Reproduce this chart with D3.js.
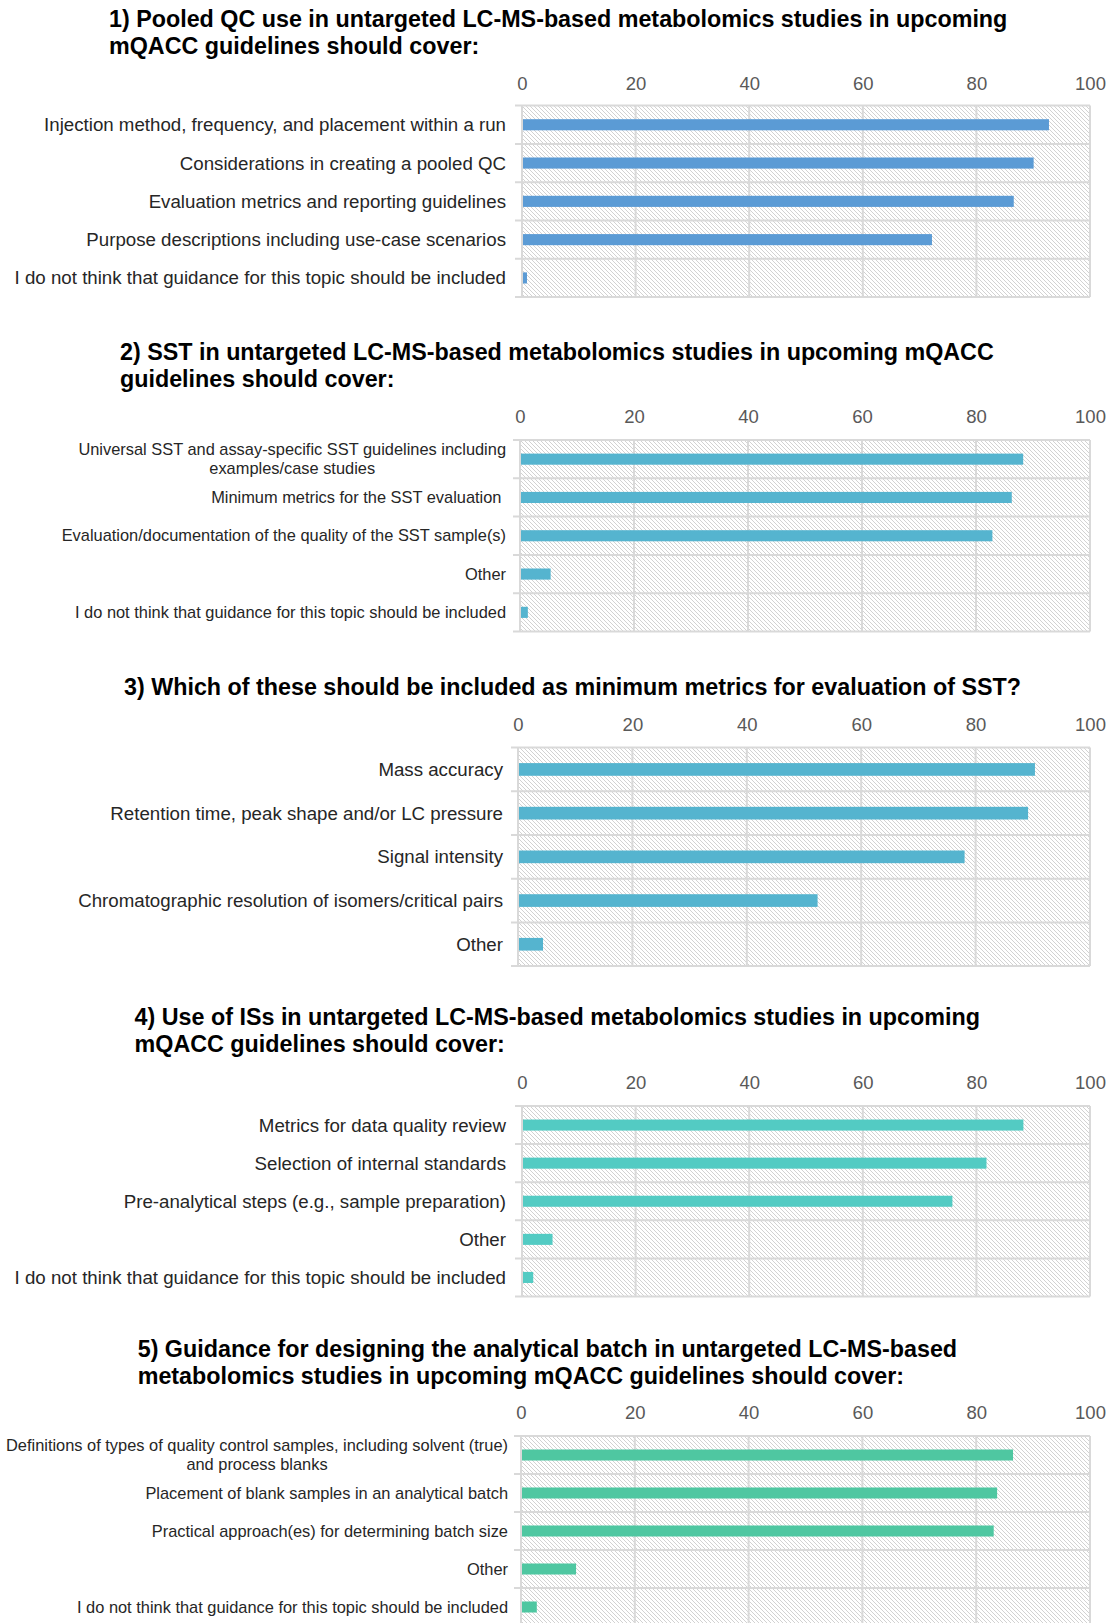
<!DOCTYPE html>
<html lang="en">
<head>
<meta charset="utf-8">
<title>mQACC survey bar charts</title>
<script src="https://cdnjs.cloudflare.com/ajax/libs/d3/7.8.5/d3.min.js"></script>
<style>
  body { margin: 0; background: #fff; }
  svg { display: block; font-family: "Liberation Sans", Arial, sans-serif; }
  .title { font-weight: bold; fill: #000; }
  .tick text { fill: #595959; }
</style>
</head>
<body>
<svg id="chart" width="1108" height="1623"></svg>
<script>
// ---- data (percent of respondents) ----
var ticks = [0, 20, 40, 60, 80, 100];

var title1 = ["1) Pooled QC use in untargeted LC-MS-based metabolomics studies in upcoming",
              "mQACC guidelines should cover:"];
var labels1 = ["Injection method, frequency, and placement within a run",
               "Considerations in creating a pooled QC",
               "Evaluation metrics and reporting guidelines",
               "Purpose descriptions including use-case scenarios",
               "I do not think that guidance for this topic should be included"];
var values1 = [92.6, 89.9, 86.4, 72.0, 0.7];

var title2 = ["2) SST in untargeted LC-MS-based metabolomics studies in upcoming mQACC",
              "guidelines should cover:"];
var labels2 = ["Universal SST and assay-specific SST guidelines including\nexamples/case studies",
               "Minimum metrics for the SST evaluation ",
               "Evaluation/documentation of the quality of the SST sample(s)",
               "Other",
               "I do not think that guidance for this topic should be included"];
var values2 = [88.1, 86.1, 82.7, 5.2, 1.2];

var title3 = ["3) Which of these should be included as minimum metrics for evaluation of SST?"];
var labels3 = ["Mass accuracy",
               "Retention time, peak shape and/or LC pressure",
               "Signal intensity",
               "Chromatographic resolution of isomers/critical pairs",
               "Other"];
var values3 = [90.2, 89.0, 77.9, 52.2, 4.2];

var title4 = ["4) Use of ISs in untargeted LC-MS-based metabolomics studies in upcoming",
              "mQACC guidelines should cover:"];
var labels4 = ["Metrics for data quality review",
               "Selection of internal standards",
               "Pre-analytical steps (e.g., sample preparation)",
               "Other",
               "I do not think that guidance for this topic should be included"];
var values4 = [88.1, 81.6, 75.6, 5.2, 1.8];

var title5 = ["5) Guidance for designing the analytical batch in untargeted LC-MS-based",
              "metabolomics studies in upcoming mQACC guidelines should cover:"];
var labels5 = ["Definitions of types of quality control samples, including solvent (true)\nand process blanks",
               "Placement of blank samples in an analytical batch",
               "Practical approach(es) for determining batch size",
               "Other",
               "I do not think that guidance for this topic should be included"];
var values5 = [86.3, 83.5, 82.9, 9.5, 2.6];

// ---- layout ----
var panels = [
  {title: title1, labels: labels1, values: values1, color: "#5b9bd5",
   titleX: 109, titleY: 27, axisY: 83, left: 522, top: 105.6, rowH: 38.3, labelRight: 506, labelSize: 18.7},
  {title: title2, labels: labels2, values: values2, color: "#55b4cf",
   titleX: 120, titleY: 360, axisY: 416, left: 520, top: 440, rowH: 38.3, labelRight: 506, labelSize: 16.4},
  {title: title3, labels: labels3, values: values3, color: "#55b4cf",
   titleX: 124, titleY: 695, axisY: 724, left: 518, top: 747.6, rowH: 43.7, labelRight: 503, labelSize: 18.7},
  {title: title4, labels: labels4, values: values4, color: "#53cbc3",
   titleX: 134.6, titleY: 1025.4, axisY: 1082, left: 522, top: 1106, rowH: 38.1, labelRight: 506, labelSize: 18.7},
  {title: title5, labels: labels5, values: values5, color: "#4fc7a1",
   titleX: 137.7, titleY: 1357.4, axisY: 1412.4, left: 521, top: 1436, rowH: 38, labelRight: 508, labelSize: 16.4}
];
var plotRight = 1090;

var svg = d3.select("#chart");

// hatched plot background
var pat = svg.append("defs").append("pattern")
  .attr("id", "hatch").attr("patternUnits", "userSpaceOnUse")
  .attr("width", 4).attr("height", 4);
pat.append("rect").attr("width", 4).attr("height", 4).attr("fill", "#fff");
pat.append("path").attr("d", "M-1,-1L5,5M3,-1L5,1M-1,3L1,5")
  .attr("stroke", "#d2d2d2").attr("stroke-width", 1);

panels.forEach(function(p) {
  var g = svg.append("g");
  var x = d3.scaleLinear().domain([0, 100]).range([p.left, plotRight]);
  var y = d3.scaleBand().domain(p.labels).range([p.top, p.top + p.rowH * p.labels.length]);
  var bottom = p.top + p.rowH * p.labels.length;

  // title
  p.title.forEach(function(t, i) {
    g.append("text").attr("class", "title")
      .attr("x", p.titleX).attr("y", p.titleY + i * 26.5)
      .style("font-size", "23.3px").text(t);
  });

  g.append("rect").attr("x", p.left).attr("y", p.top)
    .attr("width", plotRight - p.left).attr("height", bottom - p.top)
    .attr("fill", "url(#hatch)");

  // vertical grid
  g.selectAll("line.vg").data(ticks).enter().append("line")
    .attr("x1", function(d) { return x(d); }).attr("x2", function(d) { return x(d); })
    .attr("y1", p.top).attr("y2", bottom)
    .attr("stroke", "#d9d9d9").attr("stroke-width", 2);

  // row separators (extend a little left as category ticks)
  var bounds = p.labels.map(function(d) { return y(d); }).concat([bottom]);
  g.selectAll("line.hg").data(bounds).enter().append("line")
    .attr("x1", p.left - 7).attr("x2", plotRight)
    .attr("y1", function(d) { return d; }).attr("y2", function(d) { return d; })
    .attr("stroke", "#d9d9d9").attr("stroke-width", 2);

  // top axis labels
  var ax = g.append("g").attr("transform", "translate(0," + (p.axisY + 6.5) + ")")
    .call(d3.axisTop(x).tickValues(ticks).tickSize(0).tickPadding(0));
  ax.select(".domain").remove();
  ax.selectAll("text").style("font-size", "18.5px").style("font-family", "Liberation Sans, Arial, sans-serif");

  // bars
  var bh = p.rowH * 0.29;
  g.selectAll("rect.bar").data(p.values).enter().append("rect")
    .attr("class", "bar")
    .attr("x", x(0) + 1)
    .attr("y", function(d, i) { return y(p.labels[i]) + (p.rowH - bh) / 2; })
    .attr("width", function(d) { return Math.max(0, x(d) - x(0)); })
    .attr("height", bh)
    .attr("fill", p.color);

  // category labels
  p.labels.forEach(function(lab) {
    var lines = lab.split("\n");
    var cy = y(lab) + p.rowH / 2;
    if (lines.length === 1) {
      g.append("text").attr("x", p.labelRight).attr("y", cy)
        .attr("dy", "0.35em").attr("text-anchor", "end")
        .style("font-size", p.labelSize + "px").style("fill", "#262626")
        .style("white-space", "pre").text(lines[0]);
    } else {
      var t1 = g.append("text").attr("x", p.labelRight).attr("y", cy - 9.5)
        .attr("dy", "0.35em").attr("text-anchor", "end")
        .style("font-size", p.labelSize + "px").style("fill", "#262626").text(lines[0]);
      var w = t1.node().getComputedTextLength();
      g.append("text").attr("x", p.labelRight - w / 2).attr("y", cy + 9.5)
        .attr("dy", "0.35em").attr("text-anchor", "middle")
        .style("font-size", p.labelSize + "px").style("fill", "#262626").text(lines[1]);
    }
  });
});
</script>
</body>
</html>
